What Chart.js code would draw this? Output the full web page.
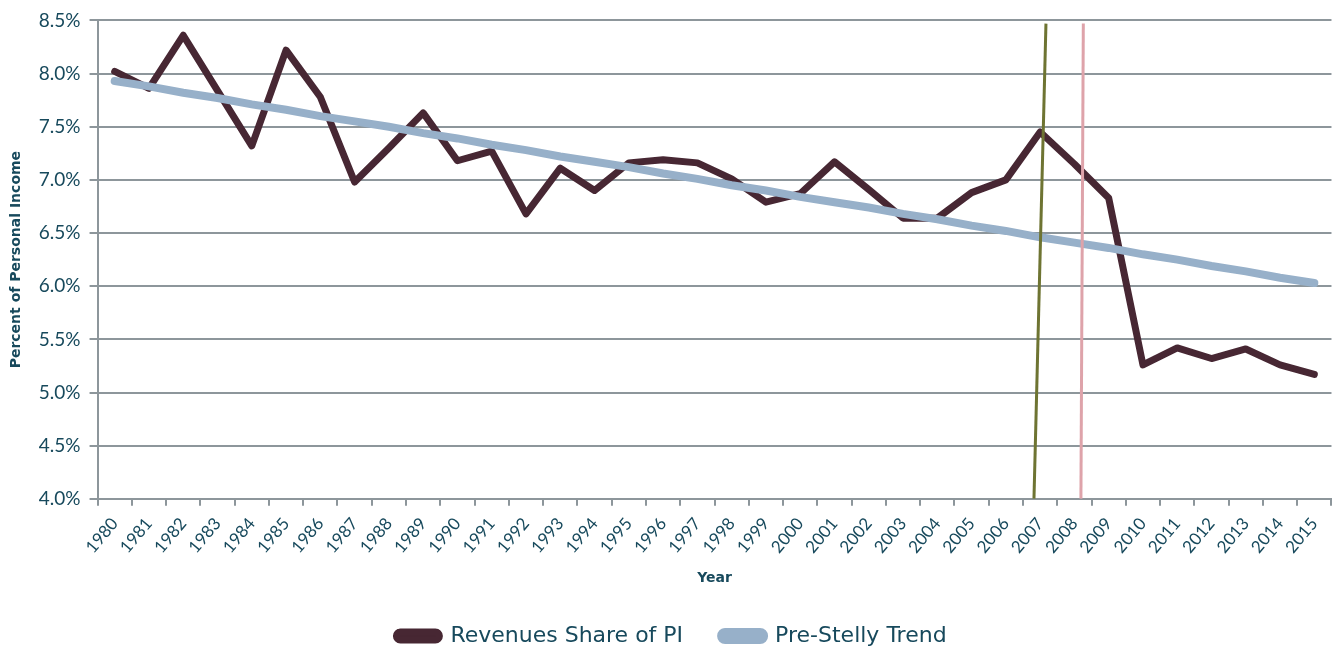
<!DOCTYPE html>
<html>
<head>
<meta charset="utf-8">
<script src="https://cdn.jsdelivr.net/npm/chart.js@4.4.1/dist/chart.umd.min.js"></script>
<style>
  html, body { margin: 0; padding: 0; background: #fff; }
  #wrap { width: 1338px; height: 648px; }
</style>
</head>
<body>
<div id="wrap"><canvas id="revChart" width="1338" height="648"></canvas></div>
<script>
// years on the x axis
const years = ['1980','1981','1982','1983','1984','1985','1986','1987','1988','1989',
  '1990','1991','1992','1993','1994','1995','1996','1997','1998','1999',
  '2000','2001','2002','2003','2004','2005','2006','2007','2008','2009',
  '2010','2011','2012','2013','2014','2015'];

// revenues as percent of personal income
const revenueShare = [8.02, 7.86, 8.36, 7.84, 7.32, 8.22, 7.78, 6.98, 7.30, 7.63,
  7.18, 7.27, 6.68, 7.11, 6.90, 7.16, 7.19, 7.16, 7.01, 6.79,
  6.87, 7.17, 6.91, 6.64, 6.64, 6.88, 7.00, 7.45, 7.15, 6.83,
  5.26, 5.42, 5.32, 5.41, 5.26, 5.17];

// pre-Stelly trend line
const preStellyTrend = [7.93, 7.88, 7.82, 7.77, 7.71, 7.66, 7.60, 7.55, 7.50, 7.44,
  7.39, 7.33, 7.28, 7.22, 7.17, 7.12, 7.06, 7.01, 6.95, 6.90,
  6.84, 6.79, 6.74, 6.68, 6.63, 6.57, 6.52, 6.46, 6.41, 6.36,
  6.30, 6.25, 6.19, 6.14, 6.08, 6.03];

// the two marker lines, in category-index units (0 = 1980)
const oliveMarker = [{x: 26.82, y: 4.0}, {x: 27.17, y: 8.47}];
const pinkMarker = [{x: 28.19, y: 4.0}, {x: 28.26, y: 8.47}];

const yTicks = [4.0, 4.5, 5.0, 5.5, 6.0, 6.5, 7.0, 7.5, 8.0, 8.5];

const textColor = '#17495c';
const gridColor = '#8d969b';
const fontFam = 'Lato, "Open Sans", sans-serif';
const wideFam = '"DejaVu Sans", sans-serif';

let ctx = document.getElementById('revChart').getContext('2d');
let revChart = new Chart(ctx, {
  type: 'line',
  data: {
    labels: years,
    datasets: [{
      label: 'Revenues Share of PI',
      data: revenueShare,
      borderColor: '#472733',
      backgroundColor: '#472733',
      borderWidth: 7,
      pointRadius: 0,
      tension: 0,
      borderCapStyle: 'round',
      borderJoinStyle: 'round',
      order: 3
    }, {
      label: 'Pre-Stelly Trend',
      data: preStellyTrend,
      borderColor: '#97b0c9',
      backgroundColor: '#97b0c9',
      borderWidth: 8,
      pointRadius: 0,
      tension: 0,
      borderCapStyle: 'round',
      order: 2
    }, {
      label: 'olive',
      data: oliveMarker,
      xAxisID: 'xm',
      borderColor: '#6e7432',
      borderWidth: 3,
      pointRadius: 0,
      order: 1
    }, {
      label: 'pink',
      data: pinkMarker,
      xAxisID: 'xm',
      borderColor: '#dea3aa',
      borderWidth: 3,
      pointRadius: 0,
      order: 0
    }]
  },
  options: {
    responsive: false,
    animation: false,
    layout: { padding: { top: 13, right: 3, left: 8, bottom: 0 } },
    plugins: {
      tooltip: { enabled: false },
      legend: {
        position: 'bottom',
        maxHeight: 61,
        labels: {
          filter: item => item.datasetIndex < 2,
          sort: (a, b) => a.datasetIndex - b.datasetIndex,
          boxWidth: 43,
          boxHeight: 8,
          useBorderRadius: true,
          borderRadius: 4,
          padding: 38,
          color: textColor,
          font: { family: wideFam, size: 22 }
        }
      }
    },
    scales: {
      x: {
        offset: true,
        grid: {
          display: true,
          drawOnChartArea: false,
          color: gridColor,
          lineWidth: 2,
          tickLength: 7,
          offset: true
        },
        border: { color: gridColor, width: 2 },
        ticks: {
          autoSkip: false,
          maxRotation: 50,
          minRotation: 50,
          color: textColor,
          font: { family: fontFam, size: 17 },
          padding: 8
        },
        title: {
          display: true,
          text: 'Year',
          color: textColor,
          font: { family: wideFam, size: 14, weight: 'bold' },
          padding: { top: 5, bottom: 0 }
        }
      },
      xm: {
        type: 'linear',
        display: false,
        min: -0.5,
        max: 35.5
      },
      y: {
        min: 4.0,
        max: 8.5,
        afterBuildTicks: axis => { axis.ticks = yTicks.map(v => ({ value: v })); },
        grid: {
          color: gridColor,
          lineWidth: 2,
          tickLength: 8
        },
        border: { color: gridColor, width: 2 },
        ticks: {
          color: textColor,
          font: { family: fontFam, size: 19 },
          padding: 9,
          callback: v => v.toFixed(1) + '%'
        },
        title: {
          display: true,
          text: 'Percent of Personal Income',
          color: textColor,
          font: { family: wideFam, size: 14, weight: 'bold' },
          padding: { top: 0, bottom: 5 }
        }
      }
    }
  }
});
</script>
</body>
</html>
